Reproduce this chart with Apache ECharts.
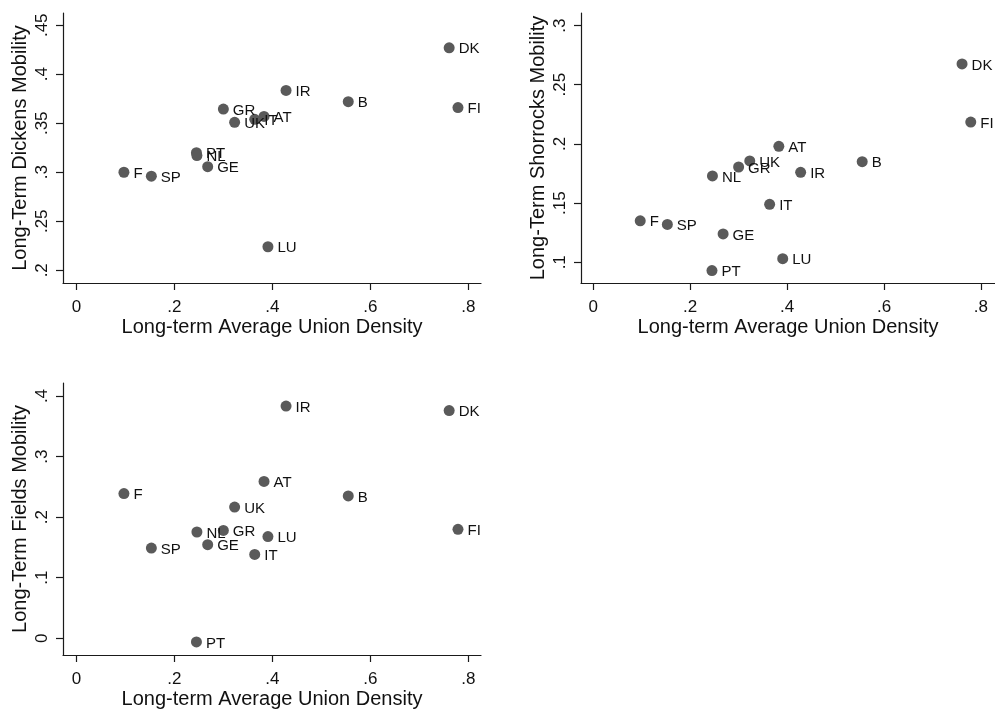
<!DOCTYPE html>
<html>
<head>
<meta charset="utf-8">
<script src="https://cdn.jsdelivr.net/npm/echarts@6/dist/echarts.min.js"></script>
<style>
  html, body { margin: 0; padding: 0; background: #fff; }
  #chart { width: 995px; height: 711px; }
</style>
</head>
<body>
<div id="chart"></div>
<script>
// Country codes and long-term average union density
const countries = ['DK', 'IR', 'B', 'FI', 'GR', 'UK', 'IT', 'AT', 'PT', 'NL', 'GE', 'F', 'SP', 'LU'];
const unionDensity = [0.761, 0.428, 0.555, 0.779, 0.300, 0.323, 0.364, 0.383, 0.245, 0.246, 0.268, 0.097, 0.153, 0.391];

// Long-term mobility indices per country
const dickens   = [0.427, 0.3835, 0.372, 0.366, 0.3645, 0.351, 0.354, 0.357, 0.320, 0.317, 0.3057, 0.300, 0.296, 0.224];
const shorrocks = [0.2676, 0.176, 0.185, 0.2185, 0.1805, 0.1856, 0.149, 0.198, 0.093, 0.173, 0.124, 0.135, 0.132, 0.103];
const fields    = [0.376, 0.3835, 0.235, 0.180, 0.178, 0.2167, 0.1385, 0.259, -0.006, 0.1755, 0.1545, 0.239, 0.149, 0.168];

// Tick positions
const xTicks = [0, 0.2, 0.4, 0.6, 0.8];
const dickensTicks = [0.2, 0.25, 0.3, 0.35, 0.4, 0.45];
const shorrocksTicks = [0.1, 0.15, 0.2, 0.25, 0.3];
const fieldsTicks = [0, 0.1, 0.2, 0.3, 0.4];

const xTitle = 'Long-term Average Union Density';
const yTitles = ['Long-Term Dickens Mobility', 'Long-Term Shorrocks Mobility', 'Long-Term Fields Mobility'];

const FONT = '"Liberation Sans", Arial, Helvetica, sans-serif';
const AXIS_COLOR = '#1a1a1a';
const MARKER_COLOR = '#5a5a5a';

function fmt(v) {
  const r = Math.round(v * 1000) / 1000;
  if (r === 0) return '0';
  return String(r).replace(/^0\./, '.').replace(/^-0\./, '-.');
}

function pairs(ys) {
  return unionDensity.map((x, i) => [x, ys[i], countries[i]]);
}

const grids = [
  { left: 63, top: 13, width: 418, height: 270 },
  { left: 581, top: 13, width: 418, height: 270 },
  { left: 63, top: 383, width: 418, height: 272 }
];

const yRanges = [
  { min: 0.187, max: 0.4625, ticks: dickensTicks },
  { min: 0.0825, max: 0.3106, ticks: shorrocksTicks },
  { min: -0.0276, max: 0.4215, ticks: fieldsTicks }
];
const xRanges = [
  { min: -0.0274, max: 0.826 },
  { min: -0.0252, max: 0.829 },
  { min: -0.0274, max: 0.826 }
];

const xAxes = xRanges.map((r, i) => ({
  type: 'value', gridIndex: i, min: r.min, max: r.max,
  name: xTitle, nameLocation: 'middle', nameGap: 34,
  nameTextStyle: { fontFamily: FONT, fontSize: 20, color: '#111' },
  axisLine: { show: true, onZero: false, lineStyle: { color: AXIS_COLOR, width: 1.2 } },
  axisTick: { show: true, length: 7, inside: false, customValues: xTicks, lineStyle: { color: AXIS_COLOR, width: 1.2 } },
  axisLabel: { show: true, margin: 15.5, customValues: xTicks, formatter: fmt, fontFamily: FONT, fontSize: 17, color: '#111' },
  splitLine: { show: false }
}));

const yAxes = yRanges.map((r, i) => ({
  type: 'value', gridIndex: i, min: r.min, max: r.max,
  name: yTitles[i], nameLocation: 'middle', nameGap: 33, nameRotate: 90,
  nameTextStyle: { fontFamily: FONT, fontSize: 20, color: '#111' },
  axisLine: { show: true, onZero: false, lineStyle: { color: AXIS_COLOR, width: 1.2 } },
  axisTick: { show: true, length: 7, inside: false, customValues: r.ticks, lineStyle: { color: AXIS_COLOR, width: 1.2 } },
  axisLabel: { show: true, rotate: 90, margin: 12, customValues: r.ticks, formatter: fmt, fontFamily: FONT, fontSize: 17, color: '#111' },
  splitLine: { show: false }
}));

const seriesData = [dickens, shorrocks, fields];
const series = seriesData.map((ys, i) => ({
  type: 'scatter', xAxisIndex: i, yAxisIndex: i,
  data: pairs(ys),
  symbol: 'circle', symbolSize: 11,
  itemStyle: { color: MARKER_COLOR, opacity: 1 },
  label: {
    show: true, position: 'right', distance: 4, offset: [0, 1.5],
    formatter: p => p.data[2],
    fontFamily: FONT, fontSize: 15, color: '#111'
  },
  emphasis: { disabled: true },
  silent: true,
  clip: false
}));

const chart = echarts.init(document.getElementById('chart'), null, { renderer: 'canvas' });
chart.setOption({
  backgroundColor: '#ffffff',
  animation: false,
  grid: grids,
  xAxis: xAxes,
  yAxis: yAxes,
  series: series
});
</script>
</body>
</html>
